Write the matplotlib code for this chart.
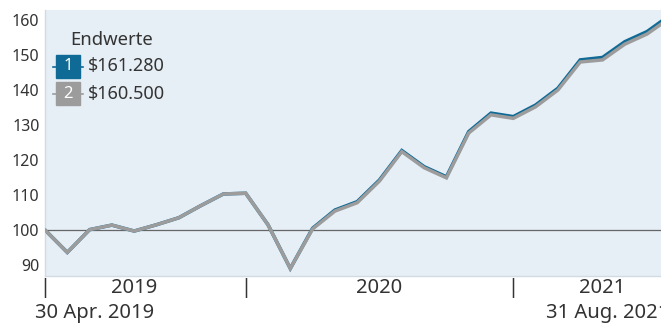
import matplotlib.pyplot as plt
from matplotlib.patches import Rectangle
from matplotlib.lines import Line2D
import matplotlib.transforms as mtransforms

plt.rcParams['font.family'] = ['Noto Sans', 'DejaVu Sans']

# month-end values, 30 Apr 2019 .. 31 Aug 2021 (base 100)
fonds = [100.0, 93.6, 100.1, 101.4, 99.7, 101.5, 103.5, 107.0, 110.3, 110.5,
         101.5, 89.0, 100.5, 105.7, 108.1, 114.3, 122.7, 118.1, 115.2, 128.1,
         133.4, 132.4, 135.7, 140.5, 148.6, 149.3, 153.8, 156.7, 161.28]
index = [100.0, 93.6, 100.1, 101.4, 99.7, 101.5, 103.5, 107.0, 110.3, 110.5,
         101.5, 89.0, 100.3, 105.4, 107.8, 114.0, 122.4, 117.8, 114.9, 127.7,
         132.9, 131.9, 135.2, 140.0, 148.0, 148.6, 153.1, 156.0, 160.5]
end_labels = ['$161.280', '$160.500']
yticks = [90, 100, 110, 120, 130, 140, 150, 160]
year_labels = ['2019', '2020', '2021']
year_pos = [4, 15, 25]
sep_pos = [0, 9, 21]
start_label = '30 Apr. 2019'
end_label = '31 Aug. 2021'

blue = '#0f6a96'
grey = '#9c9c9c'
txt = '#333333'

W, H = 661, 323
fig = plt.figure(figsize=(W / 100, H / 100), dpi=100)
ax = fig.add_axes([45 / W, 1 - 276 / H, (W - 45) / W, 266 / H])
ax.set_facecolor('#e6eef6')

x = list(range(len(fonds)))
ax.axhline(100, color='#666666', lw=0.9, zorder=1)
ax.plot(x, fonds, color=blue, lw=2.5, zorder=2, solid_joinstyle='miter')
ax.plot(x, index, color=grey, lw=2.5, zorder=3, solid_joinstyle='miter')

ax.set_xlim(0, (W - 45) / 22.3)
ax.set_ylim(100 - 46 / 3.5, 100 + 220 / 3.5)
ax.set_yticks(yticks)
ax.set_yticklabels([str(t) for t in yticks])
ax.set_xticks([])
ax.tick_params(axis='y', length=0, pad=4, labelsize=11.5, labelcolor=txt)
for s in ['top', 'right']:
    ax.spines[s].set_visible(False)
for s in ['left', 'bottom']:
    ax.spines[s].set_color('#d3dae2')
    ax.spines[s].set_linewidth(1)

# x-axis labels under the plot
tr = mtransforms.blended_transform_factory(ax.transData, ax.transAxes)
for p, lab in zip(year_pos, year_labels):
    ax.text(p, -0.045, lab, transform=tr, ha='center', va='center',
            fontsize=14.5, color=txt)
for p in sep_pos:
    ax.text(p, -0.045, '|', transform=tr, ha='center', va='center',
            fontsize=14.5, color=txt, fontweight='bold')
fig.text(35 / W, 1 - 313 / H, start_label, ha='left', va='center',
         fontsize=14.5, color=txt)
ax.text(len(fonds) - 1, -0.139, end_label, transform=tr, ha='right',
        va='center', fontsize=14.5, color=txt, clip_on=False)


def fx(px):
    return px / W


def fy(py):
    return 1 - py / H


# legend with numbered badges
fig.text(fx(70), fy(40), 'Endwerte', ha='left', va='center', fontsize=13.3, color=txt)
for i, (col, lab) in enumerate(zip([blue, grey], end_labels)):
    top = 55 + i * 27
    cy = top + 11.5
    fig.add_artist(Line2D([fx(53), fx(83)], [fy(cy), fy(cy)], color=col, lw=1.2,
                          transform=fig.transFigure))
    fig.add_artist(Rectangle((fx(56), fy(top + 23)), 24 / W, 23 / H, color=col,
                             transform=fig.transFigure))
    fig.text(fx(68), fy(cy), str(i + 1), ha='center', va='center', fontsize=12,
             color='white', fontweight='bold')
    fig.text(fx(88), fy(cy), lab, ha='left', va='center', fontsize=13, color=txt)

fig.savefig('out.png', dpi=100)
